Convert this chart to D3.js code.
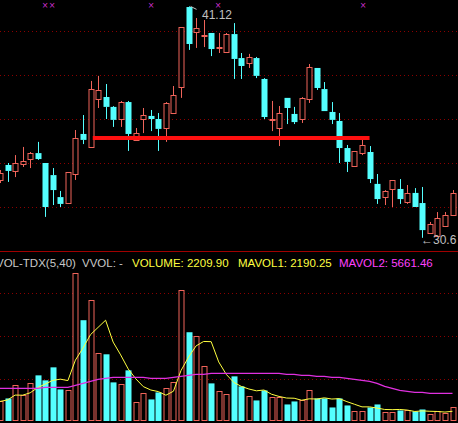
<!DOCTYPE html>
<html><head><meta charset="utf-8">
<script src="https://cdn.jsdelivr.net/npm/d3@7"></script>
<style>body{margin:0;background:#000}svg{display:block}</style>
</head><body><svg id="c" width="458" height="423"></svg>
<script>
const opens=[33.23,33.91,33.64,33.96,34.18,34.45,34.00,33.45,32.45,32.18,33.50,35.32,34.73,36.91,37.00,36.55,36.00,36.77,35.05,36.00,36.14,36.00,35.59,36.27,37.46,41.09,39.96,39.80,39.91,39.23,39.05,39.86,38.77,38.55,38.77,37.82,35.98,35.59,36.96,36.23,36.00,36.91,38.32,37.36,36.32,35.91,34.68,33.86,34.45,34.50,33.05,32.45,32.82,32.82,32.23,32.64,32.18,30.82,30.68,31.14,31.64];
const highs=[33.68,34.00,34.36,34.73,34.50,34.96,34.00,33.77,32.73,33.59,35.50,36.18,37.73,37.96,37.59,36.59,36.82,36.82,35.59,36.50,36.41,36.27,36.77,37.50,40.18,41.12,40.59,40.50,39.91,39.91,39.91,40.36,39.00,38.96,38.82,37.86,36.82,36.59,36.96,36.55,37.00,38.50,38.32,37.68,36.77,36.27,34.82,34.55,35.05,34.77,33.50,32.77,33.23,33.27,33.00,32.86,32.91,31.32,31.77,31.77,32.77];
const lows=[33.09,33.14,33.36,33.82,33.77,34.14,31.55,32.09,32.00,32.14,33.23,34.86,34.73,36.50,36.00,35.64,35.64,34.55,35.05,35.36,35.45,34.55,34.96,36.23,36.96,39.14,39.23,39.27,38.86,39.00,39.00,37.82,37.82,38.32,37.86,36.00,35.45,34.77,35.77,35.77,35.82,36.73,37.32,36.36,35.77,34.00,33.59,33.86,34.36,33.09,32.14,32.09,32.00,32.14,32.14,32.00,30.60,30.82,30.64,31.09,31.64];
const closes=[33.55,33.64,34.00,34.09,34.45,34.18,32.00,32.77,32.14,33.59,35.14,35.05,37.36,37.32,36.55,35.96,36.77,35.32,35.36,36.18,36.00,35.55,36.73,37.09,40.18,39.41,40.14,39.82,39.18,39.25,39.86,38.73,38.41,38.82,37.96,36.09,36.00,36.27,36.50,35.86,36.96,38.36,37.41,36.36,35.96,34.68,34.05,34.55,34.82,33.27,32.36,32.73,33.23,32.36,32.64,32.00,30.95,31.23,31.50,31.64,32.64];
const volumes=[3230,3740,5950,4250,6290,7650,6800,9010,5270,5100,24990,17000,20400,11390,11220,6460,6120,8500,3060,4590,3570,4760,5440,6460,22100,14960,14280,9180,6290,4930,4420,7480,5780,4080,3400,5100,3910,3910,2720,3230,3400,5100,3740,3740,2210,3740,2550,1530,1530,2210,2720,1360,1360,1700,1700,1530,1870,1020,1530,1190,2210];
const mavol2=[5440,5440,5440,5440,5440,5440,5610,5610,5610,5610,5950,6290,6630,6970,7140,7310,7310,7310,7310,7310,7140,7140,7140,7310,7480,7650,7820,7820,7990,7990,7990,7990,7990,7990,7990,7990,7990,7990,7820,7820,7650,7650,7480,7480,7310,7310,7140,6970,6800,6630,6290,5780,5440,5100,4930,4760,4760,4590,4590,4590,4590];
const priceTicks=[40,38,36,34,32];
const supportLevel=[35.14];
const RED="#f0645a",CYAN="#54ffff";
const svg=d3.select("#c");
const idx=d3.range(closes.length);
const x=d3.scaleLinear().domain([0,60]).range([0,452.5]);
const y=d3.scaleLinear().domain([40,30]).range([31,251]);
const yv=d3.scaleLinear().domain([0,28730]).range([420.5,251]);
const dot="1,3";
priceTicks.forEach(t=>svg.append("line").attr("x1",0).attr("x2",458).attr("y1",Math.round(y(t))+.5).attr("y2",Math.round(y(t))+.5).attr("stroke","#8b0000").attr("stroke-dasharray",dot));
[293,336,379].forEach(v=>svg.append("line").attr("x1",0).attr("x2",458).attr("y1",v+.5).attr("y2",v+.5).attr("stroke","#8b0000").attr("stroke-dasharray",dot));
svg.append("line").attr("x1",0).attr("x2",458).attr("y1",251.5).attr("y2",251.5).attr("stroke","#a00000");
const g=svg.append("g");
idx.forEach(i=>{
  const up=closes[i]>=opens[i],c=up?RED:CYAN,cx=Math.round(x(i))+.5;
  const top=y(Math.max(opens[i],closes[i])),bot=y(Math.min(opens[i],closes[i]));
  g.append("line").attr("x1",cx).attr("x2",cx).attr("y1",y(highs[i])).attr("y2",top).attr("stroke",c);
  g.append("line").attr("x1",cx).attr("x2",cx).attr("y1",bot).attr("y2",y(lows[i])).attr("stroke",c);
  const h=Math.max(1,bot-top);
  if(up) g.append("rect").attr("x",cx-2.5).attr("y",Math.round(top)+.5).attr("width",5).attr("height",Math.max(1,Math.round(h))).attr("fill","#000").attr("stroke",c);
  else g.append("rect").attr("x",cx-3).attr("y",top).attr("width",6).attr("height",h).attr("fill",c);
  const vt=yv(volumes[i]);
  if(up) g.append("rect").attr("x",cx-2.5).attr("y",Math.round(vt)+.5).attr("width",5).attr("height",420-Math.round(vt)).attr("fill","#000").attr("stroke",c);
  else g.append("rect").attr("x",cx-3).attr("y",vt).attr("width",6).attr("height",421-vt).attr("fill",c);
});
svg.append("line").attr("x1",x(12.3)).attr("x2",x(49)).attr("y1",y(supportLevel[0])).attr("y2",y(supportLevel[0])).attr("stroke","#ff1010").attr("stroke-width",4);
const ma5=idx.map(i=>d3.mean(volumes.slice(Math.max(0,i-4),i+1)));
const ln=d3.line().x((d,i)=>x(i)).y(d=>yv(d));
svg.append("path").attr("d",ln(ma5)).attr("fill","none").attr("stroke","#ffff40");
svg.append("path").attr("d",ln(mavol2)).attr("fill","none").attr("stroke","#e030e0").attr("stroke-width",1.3);
[45,52,151,218,363].forEach(mx=>svg.append("text").attr("x",mx).attr("y",8).attr("fill","#d030d0").attr("font-size",8).attr("text-anchor","middle").attr("font-family","DejaVu Sans").text("×"));
const f="Liberation Sans, Arial, sans-serif";
svg.append("path").attr("d",`M${x(25)+2},${y(41.12)} L${x(25)+8},${y(41.12)+3}`).attr("stroke","#c0c0c0");
svg.append("text").attr("x",202).attr("y",19).attr("fill","#c0c0c0").attr("font-size",12).attr("font-family",f).text("41.12");
svg.append("text").attr("x",421).attr("y",244).attr("fill","#c0c0c0").attr("font-size",12).attr("font-family",f).text("←30.6");
const hdr=[["VOL-TDX(5,40)",-4,"#c8c8c8"],["VVOL: -",82,"#c8c8c8"],["VOLUME: 2209.90",132,"#ffff40"],["MAVOL1: 2190.25",238,"#ffff40"],["MAVOL2: 5661.46",339,"#ff40ff"]];
hdr.forEach(h=>svg.append("text").attr("x",h[1]).attr("y",267).attr("fill",h[2]).attr("font-size",11.5).attr("font-family",f).text(h[0]));
</script></body></html>
